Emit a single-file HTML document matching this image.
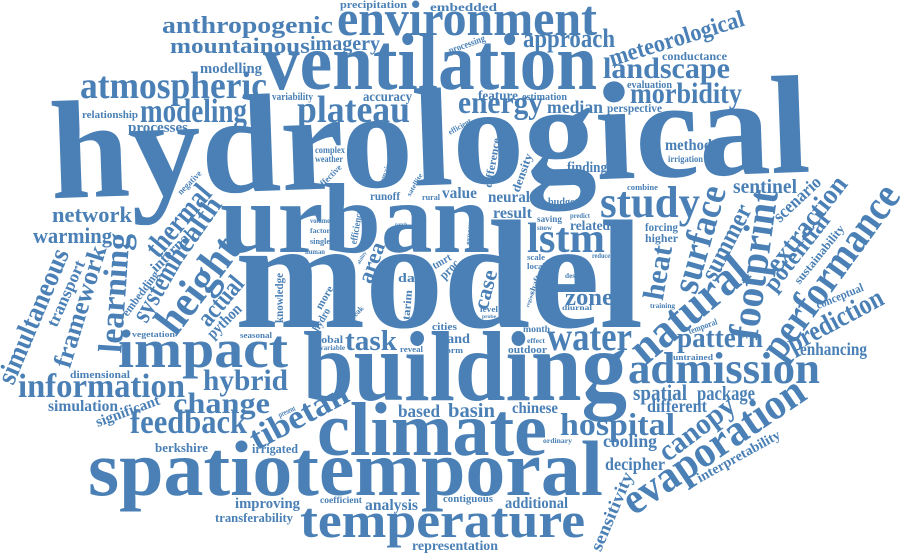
<!DOCTYPE html>
<html><head><meta charset="utf-8"><style>
html,body{margin:0;padding:0;background:#fff;width:900px;height:555px;overflow:hidden}
svg text{font-family:"Liberation Serif",serif;font-weight:bold;fill:#4a80b5}
</style></head><body>
<svg id="cloud" width="900" height="555" viewBox="0 0 900 555" xmlns="http://www.w3.org/2000/svg"></svg>
<script>
// horizontal: [word, leftX, baselineY, width, fontSize, 0]
// rotated:    [word, centerX, centerY, length, fontSize, angle]
const words = [
["hydrological",430,150,760,140,-2],
["model",235,327,408,155,0],
["building",303,400,324,100,0],
["urban",220,252,270,100,0],
["ventilation",263,89,334,80,0],
["climate",317,455,230,76,0],
["spatiotemporal",88,495,515,78,0],
["temperature",300,537,285,50,0],
["environment",337,35,260,50,0],
["impact",118,367,170,54,0],
["atmospheric",80,98,187,38,0],
["plateau",297,122,113,38,0],
["modeling",140,122,107,34,0],
["lstm",527,252,78,42,0],
["study",600,217,100,44,0],
["water",547,350,85,40,0],
["admission",628,383,192,44,0],
["hospital",560,435,115,32,0],
["information",18,397,167,34,0],
["hybrid",203,390,85,30,0],
["change",173,413,97,30,0],
["feedback",130,433,117,34,0],
["anthropogenic",162,33,171,24,0],
["mountainous",170,53,140,22,0],
["imagery",310,50,70,20,0],
["approach",523,47,92,26,0],
["landscape",603,78,127,30,0],
["morbidity",630,103,112,30,0],
["energy",458,113,85,32,0],
["median",547,113,56,18,0],
["feature",478,100,40,14,0],
["estimation",522,100,45,11,0],
["accuracy",363,101,49,14,0],
["variability",272,100,41,10,0],
["modelling",200,73,62,15,0],
["precipitation",340,8,67,11,0],
["embedded",430,11,67,12,0],
["conductance",662,60,65,12,0],
["evaluation",627,88,45,10,0],
["perspective",607,112,55,12,0],
["method",665,150,47,16,0],
["irrigation",668,162,35,9,0],
["relationship",82,118,56,11,0],
["processes",128,132,60,15,0],
["network",52,222,80,22,0],
["warming",33,243,79,22,0],
["complex",315,153,30,9,0],
["weather",315,162,28,9,0],
["runoff",370,200,30,12,0],
["rural",422,200,18,8,0],
["value",442,198,35,16,0],
["neural",488,202,42,16,0],
["result",493,218,39,16,0],
["related",570,230,40,14,0],
["saving",537,222,25,9,0],
["snow",537,230,15,7,0],
["predict",570,218,20,7,0],
["finding",567,172,40,15,0],
["budget",548,205,30,10,0],
["combine",627,190,31,8,0],
["forcing",645,231,33,12,0],
["higher",645,242,33,12,0],
["scale",527,260,18,8,0],
["local",527,269,18,8,0],
["reduce",592,258,18,7,0],
["design",565,278,20,7,0],
["zone",565,305,48,24,0],
["diurnal",562,310,30,7,0],
["training",650,308,25,7,0],
["volume",310,223,20,7,0],
["factor",310,233,20,7,0],
["single",310,244,20,8,0],
["human",305,254,20,7,0],
["patch",395,226,12,5,0],
["data",398,282,30,13,0],
["level",480,312,18,8,0],
["probe",482,318,14,5,0],
["task",345,350,52,28,0],
["cities",432,330,25,10,0],
["land",443,343,27,14,0],
["form",443,353,20,8,0],
["reveal",400,352,23,8,0],
["global",312,343,31,11,0],
["variable",320,350,25,7,0],
["month",523,332,27,9,0],
["effect",527,343,18,7,0],
["outdoor",508,353,39,10,0],
["seasonal",240,338,32,8,0],
["vegetation",132,337,43,8,0],
["dimensional",70,378,60,10,0],
["simulation",48,411,70,16,0],
["untrained",673,360,40,8,0],
["pattern",677,347,86,28,0],
["enhancing",800,355,67,18,0],
["spatial",633,400,54,22,0],
["package",697,400,58,20,0],
["different",647,412,60,18,0],
["cooling",603,447,54,18,0],
["decipher",605,470,60,18,0],
["ordinary",543,443,29,7,0],
["based",398,417,42,18,0],
["basin",448,417,47,20,0],
["chinese",512,413,46,16,0],
["berkshire",155,452,53,13,0],
["irrigated",252,453,46,13,0],
["improving",235,508,65,15,0],
["transferability",215,522,78,13,0],
["coefficient",320,503,42,9,0],
["analysis",365,510,53,16,0],
["contiguous",443,502,50,10,0],
["additional",505,508,63,16,0],
["representation",412,550,86,14,0],
["sentinel",733,193,64,20,0],
["natural",691,312,140,48,-40],
["surface",702,240,110,38,-74],
["heat",660,273,55,30,-80],
["summer",728,243,82,26,-63],
["footprint",757,265,151,42,-82],
["extraction",808,225,114,28,-52],
["scenario",798,200,58,18,-43],
["potential",798,253,92,24,-52],
["sustainability",820,255,72,12,-51],
["performance",833,273,205,42,-54],
["conceptual",840,297,50,12,-22],
["prediction",836,322,105,28,-28],
["meteorological",677,40,140,24,-17],
["processing",467,45,38,10,-20],
["temporal",703,327,30,9,-20],
["canopy",698,430,88,30,-37],
["evaporation",715,448,211,44,-34],
["interpretability",739,457,93,14,-29],
["sensitivity",613,512,84,18,-67],
["tibetan",300,418,107,34,-28],
["present",287,412,18,8,-25],
["significant",128,412,67,15,-20],
["simultaneous",35,317,144,28,-67],
["transport",67,294,71,17,-66],
["framework",82,307,126,26,-73],
["learning",117,293,120,34,-86],
["thermal",180,222,85,30,-50],
["system",157,292,66,28,-60],
["health",195,232,77,28,-55],
["internal",172,252,52,15,-45],
["embedding",141,294,53,12,-53],
["height",200,287,110,44,-53],
["actual",222,302,57,26,-50],
["python",225,322,42,16,-45],
["knowledge",280,298,50,12,-90],
["negative",190,183,30,9,-45],
["effective",330,177,30,9,-45],
["domain",385,175,25,8,-70],
["satellite",415,185,25,7,-60],
["efficiency",357,227,35,10,-80],
["exposure",470,230,30,9,-85],
["ability",362,258,14,5,-60],
["area",373,263,42,22,-70],
["tmrt",442,262,20,11,-30],
["proc",450,270,22,13,-45],
["tarim",408,305,30,11,-85],
["case",487,290,40,22,-75],
["more",325,298,25,11,-60],
["hydro",322,320,25,11,-60],
["peak",357,313,16,8,-45],
["difference",493,163,50,11,-80],
["density",523,173,40,12,-70],
["efficient",460,127,25,8,-30],
["shaft",535,285,20,8,-70],
["region",530,300,15,5,-70]
];
const svg = document.getElementById('cloud');
const NS = 'http://www.w3.org/2000/svg';
for (const w of words) {
  const t = document.createElementNS(NS, 'text');
  
  
  t.setAttribute('font-size', w[4]);
  t.setAttribute('textLength', w[3]);
  t.setAttribute('lengthAdjust', 'spacingAndGlyphs');
  if (w[5]) {
    t.setAttribute('x', w[1]);
    t.setAttribute('y', w[2] + 0.25 * w[4]);
    t.setAttribute('text-anchor', 'middle');
    t.setAttribute('transform', 'rotate(' + w[5] + ' ' + w[1] + ' ' + w[2] + ')');
  } else {
    t.setAttribute('x', w[1]);
    t.setAttribute('y', w[2]);
  }
  t.textContent = w[0];
  svg.appendChild(t);
}
</script>
</body></html>
